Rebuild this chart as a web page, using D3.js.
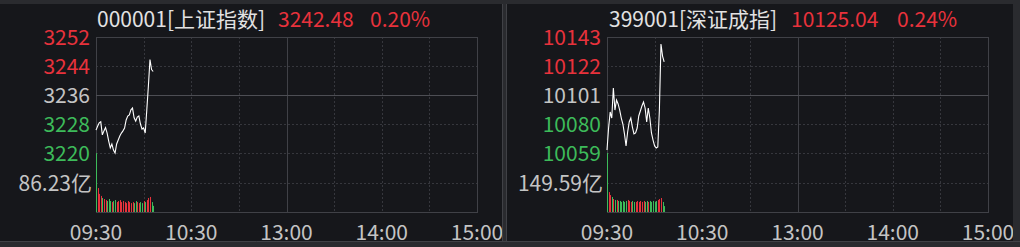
<!DOCTYPE html>
<html>
<head>
<meta charset="utf-8">
<script src="https://cdn.jsdelivr.net/npm/d3@7"></script>
<style>
body { margin: 0; background: #2a2b2f; overflow: hidden; }
svg { display: block; }
text { font-family: "Noto Sans CJK SC", "Noto Sans", sans-serif; }
</style>
</head>
<body>
<svg id="svg" width="1020" height="247"></svg>
<script>
// time axis (minutes since 09:30, trading minutes)
const timeLabels = ["09:30", "10:30", "13:00", "14:00", "15:00"];
const timeMinutes = [0, 60, 120, 180, 240];

// 上证指数
const shTitle = "000001[上证指数]";
const shLast = "3242.48";
const shPct = "0.20%";
const shPrevClose = 3236;
const shTicks = [3220, 3228, 3236, 3244, 3252];
const shVolLabel = "86.23亿";
const shVolMax = 172.46;
const shPrice = [3226.3, 3227.4, 3228.3, 3228.6, 3225.0, 3226.1, 3227.0, 3225.5, 3223.3, 3221.4,
  3222.5, 3220.8, 3220.0, 3222.5, 3223.6, 3224.7, 3225.5, 3226.1, 3226.9, 3229.1,
  3230.2, 3230.5, 3231.9, 3232.4, 3229.7, 3228.8, 3229.9, 3230.2, 3228.0, 3226.6,
  3226.9, 3225.5, 3231.9, 3238.5, 3245.8, 3243.0, 3242.48];
const shVolume = [172, 70, 53, 47, 41, 38, 35, 32, 38, 32,
  29, 32, 35, 29, 32, 35, 29, 32, 29, 26,
  32, 29, 26, 29, 26, 32, 29, 26, 29, 26,
  32, 29, 35, 41, 44, 29, 18];

// 深证成指
const szTitle = "399001[深证成指]";
const szLast = "10125.04";
const szPct = "0.24%";
const szPrevClose = 10101;
const szTicks = [10059, 10080, 10101, 10122, 10143];
const szVolLabel = "149.59亿";
const szVolMax = 299.18;
const szPrice = [10061.2, 10077.1, 10088.7, 10084.3, 10106.1, 10090.1, 10097.4, 10094.5, 10090.1, 10084.3,
  10080.0, 10072.8, 10064.1, 10074.2, 10081.5, 10084.3, 10077.8, 10072.8, 10073.5, 10077.1,
  10085.8, 10089.4, 10093.0, 10095.9, 10091.6, 10081.5, 10091.6, 10084.3, 10073.5, 10068.4,
  10064.1, 10062.6, 10063.4, 10090.1, 10137.9, 10129.2, 10125.04];
const szVolume = [299, 101, 86, 76, 66, 61, 61, 56, 56, 51,
  56, 51, 56, 61, 56, 51, 56, 51, 51, 56,
  51, 56, 51, 56, 51, 56, 51, 56, 51, 56,
  51, 56, 61, 66, 71, 51, 30];

const RED = "#e8323c";
const GREEN = "#3dbb5a";
const GRAY = "#c4c4c4";
const GRID = "#36373d";
const FRAME = "#404147";
const FS = 21;

const svg = d3.select("#svg");

// outer frame and panels
svg.append("rect").attr("width", 1020).attr("height", 247).attr("fill", "#2a2b2f");
svg.append("rect").attr("x", 0).attr("y", 4).attr("width", 502).attr("height", 237).attr("fill", "#16171b");
svg.append("rect").attr("x", 507).attr("y", 4).attr("width", 506).attr("height", 237).attr("fill", "#16171b");
svg.append("line").attr("x1", 502.5).attr("x2", 502.5).attr("y1", 4).attr("y2", 241).attr("stroke", "#404146");
svg.append("line").attr("x1", 506.5).attr("x2", 506.5).attr("y1", 4).attr("y2", 241).attr("stroke", "#404146");
svg.append("line").attr("x1", 0).attr("x2", 1020).attr("y1", 241.5).attr("y2", 241.5).attr("stroke", "#404146");

function drawPanel(cfg) {
    const clipId = "clip" + cfg.left;
    svg.append("clipPath").attr("id", clipId)
        .append("rect").attr("x", cfg.clipX).attr("y", 4).attr("width", cfg.clipW).attr("height", 237);
    const g = svg.append("g").attr("clip-path", `url(#${clipId})`);

    const x0 = cfg.left, x1 = cfg.left + 381;
    const top = 37, priceBottom = 153, volBottom = 212;

    const x = d3.scaleLinear().domain([0, 240]).range([x0, x1]);
    const y = d3.scaleLinear().domain([cfg.ticks[0], cfg.ticks[cfg.ticks.length - 1]]).range([priceBottom, top]);
    const yv = d3.scaleLinear().domain([0, cfg.volMax]).range([volBottom, priceBottom]);

    // dashed grid
    const dashed = g.append("g").attr("stroke", GRID).attr("stroke-dasharray", "2,2").attr("shape-rendering", "crispEdges");
    [30, 60, 90, 150, 180, 210].forEach(m => {
        dashed.append("line").attr("x1", Math.round(x(m)) + 0.5).attr("x2", Math.round(x(m)) + 0.5)
            .attr("y1", top).attr("y2", volBottom);
    });
    cfg.ticks.forEach(t => {
        if (t === cfg.prevClose || t === cfg.ticks[cfg.ticks.length - 1]) return;
        dashed.append("line").attr("x1", x0).attr("x2", x1)
            .attr("y1", Math.round(y(t)) + 0.5).attr("y2", Math.round(y(t)) + 0.5);
    });
    dashed.append("line").attr("x1", x0).attr("x2", x1)
        .attr("y1", Math.round(yv(cfg.volMax / 2)) + 0.5).attr("y2", Math.round(yv(cfg.volMax / 2)) + 0.5);

    // solid lines: frame, 13:00, prev close
    const solid = g.append("g").attr("fill", "none").attr("shape-rendering", "crispEdges");
    solid.append("rect").attr("x", x0 + 0.5).attr("y", top + 0.5).attr("width", x1 - x0).attr("height", volBottom - top)
        .attr("stroke", FRAME);
    solid.append("line").attr("x1", Math.round(x(120)) + 0.5).attr("x2", Math.round(x(120)) + 0.5)
        .attr("y1", top).attr("y2", volBottom).attr("stroke", FRAME);
    solid.append("line").attr("x1", x0).attr("x2", x1)
        .attr("y1", Math.round(y(cfg.prevClose)) + 0.5).attr("y2", Math.round(y(cfg.prevClose)) + 0.5)
        .attr("stroke", "#4d4e54");

    // volume bars
    g.append("g").selectAll("rect").data(cfg.volume).enter().append("rect")
        .attr("x", (d, i) => Math.round(x(i)))
        .attr("y", d => yv(d))
        .attr("width", 1)
        .attr("height", d => volBottom - yv(d))
        .attr("fill", (d, i) => {
            const prev = i === 0 ? cfg.prevClose : cfg.price[i - 1];
            return cfg.price[i] >= prev ? RED : GREEN;
        });

    // price line
    const line = d3.line().x((d, i) => x(i)).y(d => y(d));
    g.append("path").datum(cfg.price).attr("d", line)
        .attr("fill", "none").attr("stroke", "#ffffff").attr("stroke-width", 1.1);

    // y labels
    g.append("g").selectAll("text").data(cfg.ticks).enter().append("text")
        .attr("x", x0 - 6).attr("y", d => y(d) + 8)
        .attr("text-anchor", "end").attr("font-size", FS)
        .attr("fill", d => d > cfg.prevClose ? RED : d < cfg.prevClose ? GREEN : GRAY)
        .text(d => d);

    g.append("text").attr("x", x0 - 4).attr("y", 191)
        .attr("text-anchor", "end").attr("font-size", FS).attr("fill", GRAY)
        .text(cfg.volLabel);

    // time labels
    g.append("g").selectAll("text").data(timeMinutes).enter().append("text")
        .attr("x", d => x(d)).attr("y", 240)
        .attr("text-anchor", "middle").attr("font-size", FS).attr("fill", GRAY)
        .text((d, i) => timeLabels[i]);

    // header
    g.append("text").attr("x", cfg.titleX).attr("y", 27).attr("font-size", FS).attr("fill", "#e2e2e2").text(cfg.title);
    g.append("text").attr("x", cfg.lastX).attr("y", 27).attr("font-size", FS).attr("fill", RED).text(cfg.last);
    g.append("text").attr("x", cfg.pctX).attr("y", 27).attr("font-size", FS).attr("fill", RED).text(cfg.pct);
}

drawPanel({
    left: 96, clipX: 0, clipW: 502,
    title: shTitle, last: shLast, pct: shPct,
    titleX: 97, lastX: 278, pctX: 370,
    prevClose: shPrevClose, ticks: shTicks,
    volLabel: shVolLabel, volMax: shVolMax,
    price: shPrice, volume: shVolume,
});

drawPanel({
    left: 607, clipX: 507, clipW: 506,
    title: szTitle, last: szLast, pct: szPct,
    titleX: 609, lastX: 791, pctX: 897,
    prevClose: szPrevClose, ticks: szTicks,
    volLabel: szVolLabel, volMax: szVolMax,
    price: szPrice, volume: szVolume,
});
</script>
</body>
</html>
